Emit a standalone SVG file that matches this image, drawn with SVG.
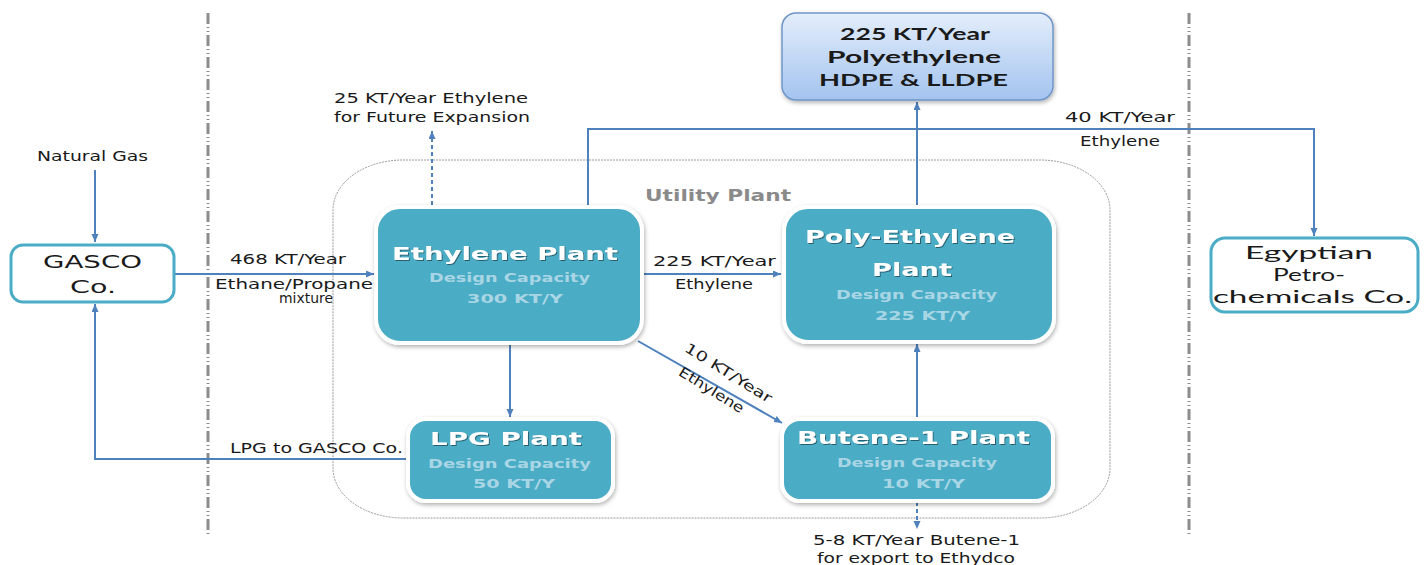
<svg xmlns="http://www.w3.org/2000/svg" width="1426" height="565" viewBox="0 0 1426 565">
<defs>
<marker id="ah" markerWidth="9" markerHeight="8" refX="8" refY="3.5" orient="auto" markerUnits="userSpaceOnUse"><path d="M0,0 L8,3.5 L0,7 z" fill="#4f81bd"/></marker>
<linearGradient id="gTop" x1="0" y1="0" x2="0" y2="1"><stop offset="0" stop-color="#e4eefb"/><stop offset="1" stop-color="#a3c3ef"/></linearGradient>
<filter id="sh" x="-10%" y="-10%" width="120%" height="125%"><feDropShadow dx="1" dy="2" stdDeviation="2" flood-color="#000" flood-opacity="0.3"/></filter>
<filter id="tsh" x="-5%" y="-20%" width="110%" height="150%"><feDropShadow dx="1" dy="1" stdDeviation="0.6" flood-color="#000" flood-opacity="0.45"/></filter>
</defs>
<style>
.div{stroke:#8c8c8c;stroke-width:3;fill:none;stroke-dasharray:11 3 1 3 1 3}
.ln{stroke:#4f81bd;stroke-width:2;fill:none}
.dash{stroke-dasharray:4 3}
.plant{fill:#4bacc6;stroke:#fff;stroke-width:4;filter:url(#sh)}
.co{fill:#fff;stroke:#4bacc6;stroke-width:3}
.t{font-family:"DejaVu Sans",Verdana,sans-serif;font-size:14px;fill:#1a1a1a}
.ttl{font-family:"DejaVu Sans",Verdana,sans-serif;font-size:18px;font-weight:bold;fill:#fff;filter:url(#tsh)}
.cap{font-family:"DejaVu Sans",Verdana,sans-serif;font-size:13px;font-weight:bold;fill:#a9d6e5}
.cal{font-family:Lato,"Liberation Sans",sans-serif;fill:#1a1a1a}
</style>

<g id="dividers">
<line class="div" x1="208" y1="13" x2="208" y2="535"/>
<line class="div" x1="1189" y1="13" x2="1189" y2="535"/>
</g>

<g id="utility-plant">
<rect x="333" y="160" width="777" height="358" rx="70" ry="50" fill="none" stroke="#9a9a9a" stroke-width="1" stroke-dasharray="2 1"/>
<text x="645" y="201" font-family="DejaVu Sans,Verdana,sans-serif" font-size="15" font-weight="bold" fill="#8a8a8a" textLength="146" lengthAdjust="spacingAndGlyphs">Utility Plant</text>
</g>

<g id="connectors">
<line class="ln" x1="95" y1="170" x2="95" y2="242" marker-end="url(#ah)"/>
<line class="ln" x1="175" y1="274" x2="374" y2="274" marker-end="url(#ah)"/>
<line class="ln dash" x1="432" y1="205" x2="432" y2="131" marker-end="url(#ah)"/>
<polyline class="ln" points="588,205 588,129 1314,129 1314,236" marker-end="url(#ah)"/>
<line class="ln" x1="917" y1="205" x2="917" y2="102" marker-end="url(#ah)"/>
<line class="ln" x1="644" y1="274" x2="781" y2="274" marker-end="url(#ah)"/>
<line class="ln" x1="510" y1="345" x2="510" y2="417" marker-end="url(#ah)"/>
<polyline class="ln" points="408,459 95,459 95,304" marker-end="url(#ah)"/>
<line class="ln" x1="638" y1="341" x2="782" y2="423" marker-end="url(#ah)"/>
<line class="ln" x1="917" y1="418" x2="917" y2="344" marker-end="url(#ah)"/>
<line class="ln dash" x1="917" y1="502" x2="917" y2="529" marker-end="url(#ah)"/>
</g>

<g id="connector-labels">
<text class="t" x="37" y="161" textLength="111" lengthAdjust="spacingAndGlyphs">Natural Gas</text>
<text class="t" x="334" y="103" textLength="194" lengthAdjust="spacingAndGlyphs">25 KT/Year Ethylene</text>
<text class="t" x="334" y="122" textLength="196" lengthAdjust="spacingAndGlyphs">for Future Expansion</text>
<text class="t" x="230" y="264" textLength="116" lengthAdjust="spacingAndGlyphs">468 KT/Year</text>
<text class="t" x="215" y="289" textLength="158" lengthAdjust="spacingAndGlyphs">Ethane/Propane</text>
<text class="t" x="279" y="303" textLength="54" lengthAdjust="spacingAndGlyphs">mixture</text>
<text class="t" x="653" y="266" textLength="123" lengthAdjust="spacingAndGlyphs">225 KT/Year</text>
<text class="t" x="675" y="289" textLength="78" lengthAdjust="spacingAndGlyphs">Ethylene</text>
<text class="t" x="1065" y="122" textLength="110" lengthAdjust="spacingAndGlyphs">40 KT/Year</text>
<text class="t" x="1080" y="146" textLength="80" lengthAdjust="spacingAndGlyphs">Ethylene</text>
<text class="t" x="230" y="453" textLength="173" lengthAdjust="spacingAndGlyphs">LPG to GASCO Co.</text>
<text class="t" x="813" y="545" textLength="207" lengthAdjust="spacingAndGlyphs">5-8 KT/Year Butene-1</text>
<text class="t" x="817" y="563" textLength="198" lengthAdjust="spacingAndGlyphs">for export to Ethydco</text>
<text class="t" transform="translate(726,377) rotate(32)" text-anchor="middle" textLength="100" lengthAdjust="spacingAndGlyphs">10 KT/Year</text>
<text class="t" transform="translate(709,394) rotate(32)" text-anchor="middle" textLength="74" lengthAdjust="spacingAndGlyphs">Ethylene</text>
</g>

<g id="gasco">
<rect class="co" x="11" y="245" width="163" height="57" rx="12"/>
<text x="43" y="268" font-family="DejaVu Sans,Verdana,sans-serif" font-size="18" fill="#1a1a1a" textLength="99" lengthAdjust="spacingAndGlyphs">GASCO</text>
<text x="70" y="293" font-family="DejaVu Sans,Verdana,sans-serif" font-size="18" fill="#1a1a1a" textLength="46" lengthAdjust="spacingAndGlyphs">Co.</text>
</g>

<g id="egyptian">
<rect class="co" x="1211" y="238" width="207" height="74" rx="14"/>
<text class="cal" x="1245" y="259" font-size="18" textLength="128" lengthAdjust="spacingAndGlyphs">Egyptian</text>
<text class="cal" x="1273" y="281" font-size="18" textLength="72" lengthAdjust="spacingAndGlyphs">Petro-</text>
<text class="cal" x="1213" y="303" font-size="18" textLength="199" lengthAdjust="spacingAndGlyphs">chemicals Co.</text>
</g>

<g id="polyethylene-product">
<rect x="782" y="13" width="271" height="87" rx="14" fill="url(#gTop)" stroke="#7096c8" stroke-width="1.5" filter="url(#sh)"/>
<text class="cal" x="840" y="40" font-size="17" font-weight="bold" textLength="150" lengthAdjust="spacingAndGlyphs">225 KT/Year</text>
<text class="cal" x="827" y="63" font-size="17" font-weight="bold" textLength="174" lengthAdjust="spacingAndGlyphs">Polyethylene</text>
<text class="cal" x="819" y="86" font-size="17" font-weight="bold" textLength="189" lengthAdjust="spacingAndGlyphs">HDPE &amp; LLDPE</text>
</g>

<g id="ethylene-plant">
<rect class="plant" x="376" y="207" width="266" height="136" rx="24"/>
<text class="ttl" x="392" y="260" textLength="226" lengthAdjust="spacingAndGlyphs">Ethylene  Plant</text>
<text class="cap" x="429" y="282" textLength="161" lengthAdjust="spacingAndGlyphs">Design  Capacity</text>
<text class="cap" x="467" y="303" textLength="96" lengthAdjust="spacingAndGlyphs">300 KT/Y</text>
</g>

<g id="polyethylene-plant">
<rect class="plant" x="784" y="207" width="270" height="135" rx="24"/>
<text class="ttl" x="805" y="243" textLength="210" lengthAdjust="spacingAndGlyphs">Poly-Ethylene</text>
<text class="ttl" x="872" y="276" textLength="80" lengthAdjust="spacingAndGlyphs">Plant</text>
<text class="cap" x="836" y="299" textLength="161" lengthAdjust="spacingAndGlyphs">Design  Capacity</text>
<text class="cap" x="875" y="320" textLength="95" lengthAdjust="spacingAndGlyphs">225 KT/Y</text>
</g>

<g id="lpg-plant">
<rect class="plant" x="408" y="419" width="205" height="82" rx="18"/>
<text class="ttl" x="430" y="445" textLength="152" lengthAdjust="spacingAndGlyphs">LPG Plant</text>
<text class="cap" x="428" y="468" textLength="163" lengthAdjust="spacingAndGlyphs">Design  Capacity</text>
<text class="cap" x="473" y="488" textLength="82" lengthAdjust="spacingAndGlyphs">50 KT/Y</text>
</g>

<g id="butene-plant">
<rect class="plant" x="782" y="419" width="271" height="82" rx="18"/>
<text class="ttl" x="797" y="444" textLength="233" lengthAdjust="spacingAndGlyphs">Butene-1  Plant</text>
<text class="cap" x="837" y="467" textLength="160" lengthAdjust="spacingAndGlyphs">Design  Capacity</text>
<text class="cap" x="882" y="488" textLength="83" lengthAdjust="spacingAndGlyphs">10 KT/Y</text>
</g>
</svg>
